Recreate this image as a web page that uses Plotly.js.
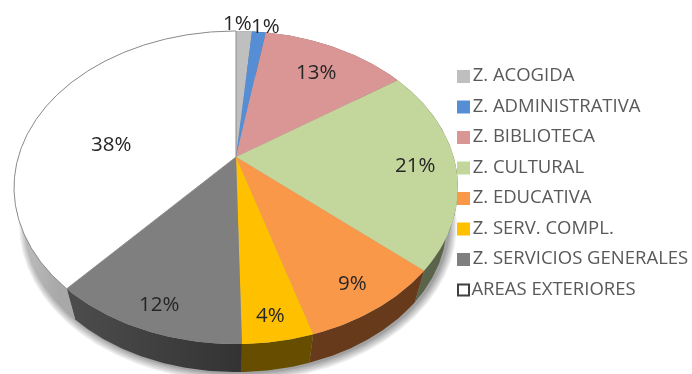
<!DOCTYPE html>
<html>
<head>
<meta charset="utf-8">
<script src="https://cdn.plot.ly/plotly-3.0.1.min.js"></script>
<style>html,body{margin:0;padding:0;background:#fff}#chart{width:692px;height:374px;filter:blur(0.45px)}</style>
</head>
<body>
<div id="chart"></div>
<script>
const categories = ["Z. ACOGIDA","Z. ADMINISTRATIVA","Z. BIBLIOTECA","Z. CULTURAL","Z. EDUCATIVA","Z. SERV. COMPL.","Z. SERVICIOS GENERALES","AREAS EXTERIORES"];
const values = [1.4,1.2,12.8,21.0,8.9,4.3,11.9,38.4];
const topColors = ["#bfbfbf","#558ed5","#d99694","#c3d69b","#fa984a","#ffc000","#7f7f7f","#ffffff"];
const sideColors = ["#737373","#335580","#825a59","#59644a","#663a1a","#664d00","#3a3a3a","#b0b0b0"];

// Projection of the tilted pie, in pixel units of the axes
const CX = 236, CY = 157, A = 217.7, B = 150.6, K = 0.195, VPY = 904, F = 0.95;
function project(theta, r) {
  const X = r * Math.sin(theta), Y = r * Math.cos(theta), w = 1 + K * Y;
  return [CX + A * X / w, CY - B * Y / w];
}
function lower(p) { return [CX + (p[0] - CX) * F, VPY + (p[1] - VPY) * F]; }
function arc(t0, t1) {
  const n = Math.max(2, Math.ceil((t1 - t0) * 90)), pts = [];
  for (let i = 0; i <= n; i++) pts.push(project(t0 + (t1 - t0) * i / n, 1));
  return pts;
}
const total = values.reduce((a, b) => a + b, 0);
let acc = 0;
const slices = values.map(v => {
  const t0 = acc / total * 2 * Math.PI; acc += v;
  return [t0, acc / total * 2 * Math.PI];
});
const traces = [];
function poly(pts, style) {
  traces.push(Object.assign({
    type: "scatter", mode: "lines", fill: "toself",
    x: pts.map(p => p[0]), y: pts.map(p => p[1]),
    line: {width: 0}, hoverinfo: "skip", showlegend: false
  }, style));
}
// soft shadow under the body
[8, 6.5, 5, 3.5, 2, 1].forEach(g => {
  const ring = arc(0, 2 * Math.PI).map(p => {
    const q = lower(p);
    return [CX + (q[0] - CX) * (1 + g / 215) + 2, 215 + (q[1] - 215) * (1 + g / 150) + 1];
  });
  poly(ring, {fillcolor: "rgba(0,0,0,0.07)"});
});
// side walls
slices.forEach((s, i) => {
  const a = arc(s[0], s[1]);
  const style = {fillcolor: sideColors[i]};
  if (i === 6) style.fillgradient = {type: "horizontal", colorscale: [[0, "#4d4d4d"], [1, "#333333"]]};
  if (i === 7) style.fillgradient = {type: "horizontal", colorscale: [[0, "#c4c4c4"], [0.2, "#a8a8a8"], [1, "#a8a8a8"]]};
  poly(a.concat(a.map(lower).reverse()), style);
});
// top faces
slices.forEach((s, i) => {
  const pts = [[CX, CY]].concat(arc(s[0], s[1]));
  pts.push([CX, CY]);
  const style = {fillcolor: topColors[i]};
  if (i === 7) style.line = {width: 1, color: "#8c8c8c"};
  poly(pts, style);
});
// legend keys and names
const legendX = 463.5, legendTop = 76.5, legendStep = 30.5;
categories.forEach((c, i) => {
  traces.push({
    type: "scatter", mode: "markers+text",
    x: [legendX], y: [legendTop + i * legendStep],
    text: [c], textposition: "middle right",
    textfont: {family: "'Open Sans', sans-serif", size: 18.5, color: "#595959"},
    marker: {symbol: "square", size: i === 7 ? 11 : 13, color: topColors[i],
             line: i === 7 ? {width: 2, color: "#404040"} : {width: 0}},
    hoverinfo: "skip", showlegend: false
  });
});
// value labels, placed where the reference has them
const labelX = [237,265,316,415,352,270,159,111];
const labelY = [22,25,71,164,282,314,303,143];
const annotations = values.map((v, i) => ({
  x: labelX[i], y: labelY[i], xref: "x", yref: "y", showarrow: false,
  text: Math.round(v) + "%",
  font: {family: "'Open Sans', sans-serif", size: 20.5, color: "#262626"}
}));
const layout = {
  width: 692, height: 374, margin: {l: 0, r: 0, t: 0, b: 0},
  paper_bgcolor: "#ffffff", plot_bgcolor: "#ffffff", showlegend: false,
  xaxis: {range: [0, 692], visible: false, fixedrange: true},
  yaxis: {range: [374, 0], visible: false, fixedrange: true},
  annotations: annotations
};
Plotly.newPlot("chart", traces, layout, {displayModeBar: false, staticPlot: true});
</script>
</body>
</html>
